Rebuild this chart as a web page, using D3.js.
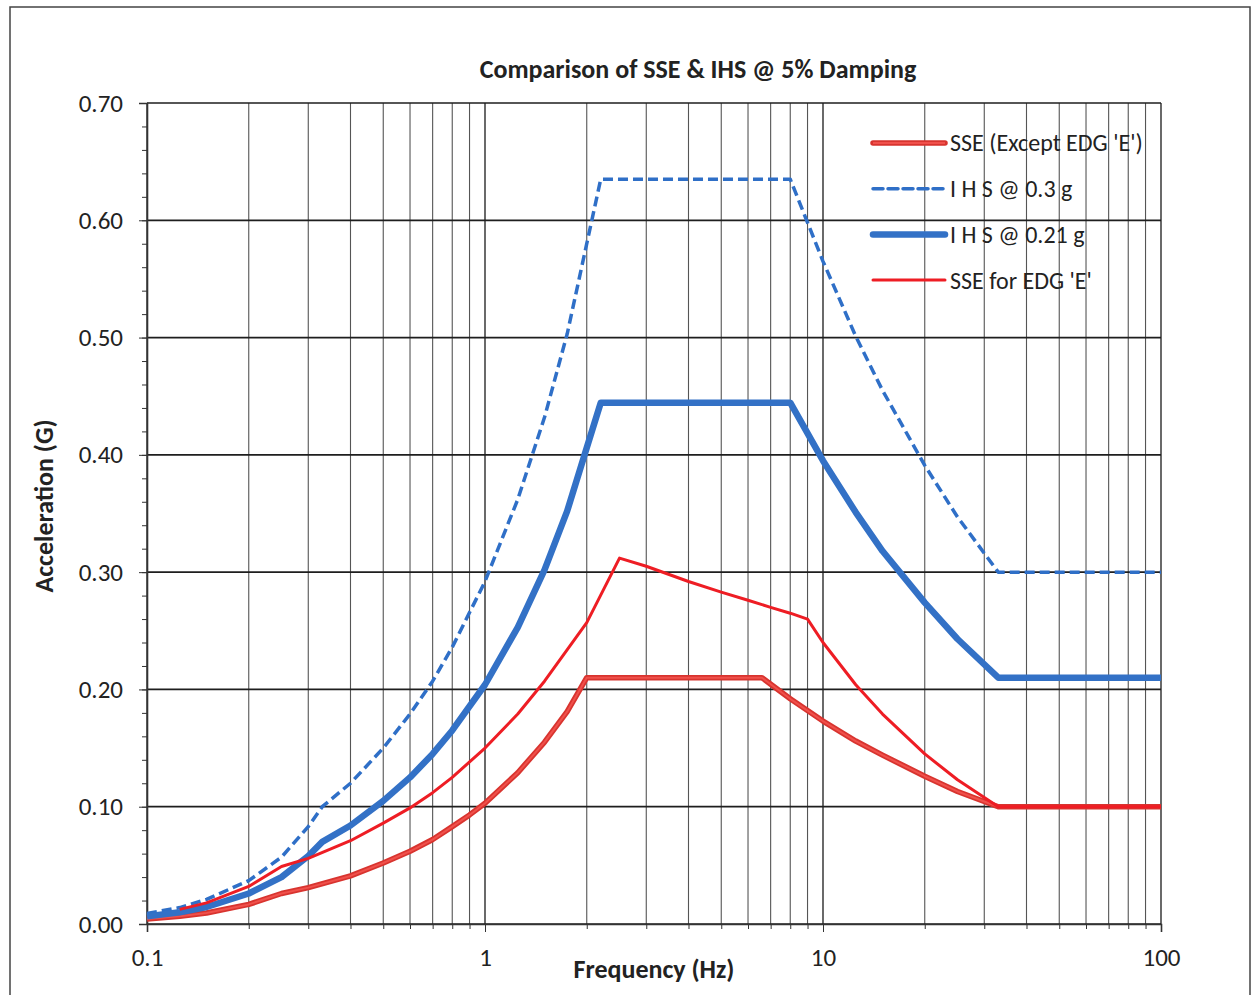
<!DOCTYPE html>
<meta charset="utf-8">
<style>
body { margin: 0; background: #fff; }
svg text { font-family: Carlito, Lato, "Open Sans", sans-serif; fill: #222; }
.grid-v line { stroke: #555; stroke-width: 1.1; }
.grid-v line.decade { stroke: #2a2a2a; stroke-width: 1.4; }
.grid-h line { stroke: #1e1e1e; stroke-width: 1.7; }
.axis path, .axis line { stroke: #333; }
</style>
<svg width="1252" height="995"></svg>
<script src="https://cdn.jsdelivr.net/npm/d3@7"></script>
<script>

// frequencies (Hz) and accelerations (G)
var freqIHS = [0.1, 0.125, 0.15, 0.2, 0.25, 0.3, 0.33, 0.4, 0.5, 0.6, 0.7, 0.8, 1.0, 1.25, 1.5, 1.75, 2.0, 2.2, 8, 10, 12.5, 15, 20, 25, 33, 100];
var accIHS30 = [0.009, 0.014, 0.021, 0.037, 0.057, 0.083, 0.100, 0.120, 0.150, 0.179, 0.207, 0.236, 0.292, 0.362, 0.432, 0.503, 0.580, 0.635, 0.635, 0.565, 0.501, 0.455, 0.391, 0.347, 0.300, 0.300];
var accIHS21 = [0.0065, 0.010, 0.0145, 0.026, 0.040, 0.058, 0.070, 0.084, 0.105, 0.125, 0.145, 0.165, 0.204, 0.253, 0.302, 0.352, 0.406, 0.4445, 0.4445, 0.395, 0.351, 0.318, 0.274, 0.243, 0.210, 0.210];

var freqSSE = [0.1, 0.125, 0.15, 0.2, 0.25, 0.3, 0.4, 0.5, 0.6, 0.7, 0.8, 0.9, 1.0, 1.25, 1.5, 1.75, 2.0, 6.6, 8, 10, 12.5, 15, 20, 25, 33, 100];
var accSSE = [0.0042, 0.0066, 0.0094, 0.0167, 0.026, 0.031, 0.041, 0.052, 0.062, 0.072, 0.083, 0.093, 0.103, 0.129, 0.155, 0.181, 0.210, 0.210, 0.192, 0.173, 0.156, 0.144, 0.126, 0.113, 0.100, 0.100];

var freqEDG = [0.125, 0.15, 0.2, 0.25, 0.3, 0.4, 0.5, 0.6, 0.7, 0.8, 1.0, 1.25, 1.5, 2.0, 2.5, 3, 4, 5, 6, 7, 8, 9, 10, 12.5, 15, 20, 25, 33, 100];
var accEDG = [0.0125, 0.018, 0.032, 0.049, 0.056, 0.071, 0.086, 0.099, 0.112, 0.125, 0.150, 0.179, 0.207, 0.257, 0.312, 0.305, 0.292, 0.283, 0.276, 0.270, 0.265, 0.260, 0.240, 0.204, 0.179, 0.145, 0.123, 0.100, 0.100];

var xTickLabels = [0.1, 1, 10, 100];
var yTicks = [0, 0.1, 0.2, 0.3, 0.4, 0.5, 0.6, 0.7];
var yMinorTicks = d3.range(0, 0.701, 0.02);

var legendNames = ["SSE (Except EDG 'E')", "I H S @ 0.3 g", "I H S @ 0.21 g", "SSE for EDG 'E'"];

var svg = d3.select("svg");

// outer frame
svg.append("rect")
    .attr("x", 10).attr("y", 7)
    .attr("width", 1240).attr("height", 1000)
    .attr("fill", "none").attr("stroke", "#444").attr("stroke-width", 1.5);

var plotLeft = 147, plotRight = 1161, plotTop = 103, plotBottom = 924;

var x = d3.scaleLog().domain([0.1, 100]).range([plotLeft, plotRight]);
var y = d3.scaleLinear().domain([0, 0.7]).range([plotBottom, plotTop]);

// vertical grid at every 1..9 multiple
svg.append("g").attr("class", "grid-v")
  .selectAll("line")
  .data(x.ticks())
  .enter().append("line")
    .attr("class", function(d) { return xTickLabels.indexOf(d) >= 0 ? "decade" : null; })
    .attr("x1", function(d) { return x(d); })
    .attr("x2", function(d) { return x(d); })
    .attr("y1", plotTop).attr("y2", plotBottom);

// horizontal grid
svg.append("g").attr("class", "grid-h")
  .selectAll("line")
  .data(yTicks)
  .enter().append("line")
    .attr("x1", plotLeft).attr("x2", plotRight)
    .attr("y1", function(d) { return y(d); })
    .attr("y2", function(d) { return y(d); });

// y axis
svg.append("g")
    .attr("class", "axis")
    .attr("transform", "translate(" + plotLeft + ",0)")
    .call(d3.axisLeft(y).tickValues(yMinorTicks).tickSize(5).tickFormat(""))
    .call(function(g) { g.select(".domain").remove(); });

var yAxis = svg.append("g")
    .attr("class", "axis")
    .attr("transform", "translate(" + plotLeft + ",0)")
    .call(d3.axisLeft(y).tickValues(yTicks).tickSize(8).tickPadding(16).tickFormat(d3.format(".2f")));
yAxis.select(".domain").attr("stroke-width", 1.6);
yAxis.selectAll("text").style("font-size", "25px");

// x axis
svg.append("g")
    .attr("class", "axis")
    .attr("transform", "translate(0," + plotBottom + ")")
    .call(d3.axisBottom(x).tickValues(x.ticks()).tickSize(5).tickFormat(""))
    .call(function(g) { g.select(".domain").remove(); });

var xAxis = svg.append("g")
    .attr("class", "axis")
    .attr("transform", "translate(0," + plotBottom + ")")
    .call(d3.axisBottom(x).tickValues(xTickLabels).tickSize(8).tickPadding(16).tickFormat(function(d) { return String(d); }));
xAxis.select(".domain").attr("stroke-width", 1.6);
xAxis.selectAll("text").style("font-size", "25px");

// series
var line = d3.line()
    .x(function(d) { return x(d[0]); })
    .y(function(d) { return y(d[1]); });

function pairs(fs, as) { return fs.map(function(f, i) { return [f, as[i]]; }); }

var series = [
  { data: pairs(freqSSE, accSSE), color: "#d8342f", width: 5.5, dash: null, inner: "#f0504b" },
  { data: pairs(freqIHS, accIHS30), color: "#2f6fc7", width: 3.5, dash: "10,5" },
  { data: pairs(freqIHS, accIHS21), color: "#3371c6", width: 6.5, dash: null },
  { data: pairs(freqEDG, accEDG), color: "#ee1d24", width: 3, dash: null }
];

series.forEach(function(s) {
  svg.append("path")
      .datum(s.data)
      .attr("fill", "none")
      .attr("stroke", s.color)
      .attr("stroke-width", s.width)
      .attr("stroke-linejoin", "round")
      .attr("stroke-dasharray", s.dash)
      .attr("d", line);
  if (s.inner) {
    svg.append("path")
        .datum(s.data)
        .attr("fill", "none")
        .attr("stroke", s.inner)
        .attr("stroke-width", 2)
        .attr("stroke-linejoin", "round")
        .attr("d", line);
  }
});

// legend
var legend = svg.append("g").attr("transform", "translate(873,143)");
series.forEach(function(s, i) {
  var g = legend.append("g").attr("transform", "translate(0," + (i * 45.7) + ")");
  g.append("line")
      .attr("x1", 0).attr("x2", 72)
      .attr("stroke", s.color)
      .attr("stroke-width", s.width)
      .attr("stroke-linecap", "round")
      .attr("stroke-dasharray", s.dash);
  if (s.inner) {
    g.append("line").attr("x1", 0).attr("x2", 72)
        .attr("stroke", s.inner).attr("stroke-width", 2);
  }
  g.append("text")
      .attr("x", 77).attr("dy", "0.35em")
      .style("font-size", "24px")
      .text(legendNames[i]);
});

// titles
svg.append("text")
    .attr("x", 698).attr("y", 78)
    .attr("text-anchor", "middle")
    .style("font-size", "26px").style("font-weight", "bold")
    .text("Comparison of SSE & IHS @ 5% Damping");

svg.append("text")
    .attr("x", 654).attr("y", 978)
    .attr("text-anchor", "middle")
    .style("font-size", "26px").style("font-weight", "bold")
    .text("Frequency (Hz)");

svg.append("text")
    .attr("transform", "translate(53,506) rotate(-90)")
    .attr("text-anchor", "middle")
    .style("font-size", "26px").style("font-weight", "bold")
    .text("Acceleration (G)");

</script>
